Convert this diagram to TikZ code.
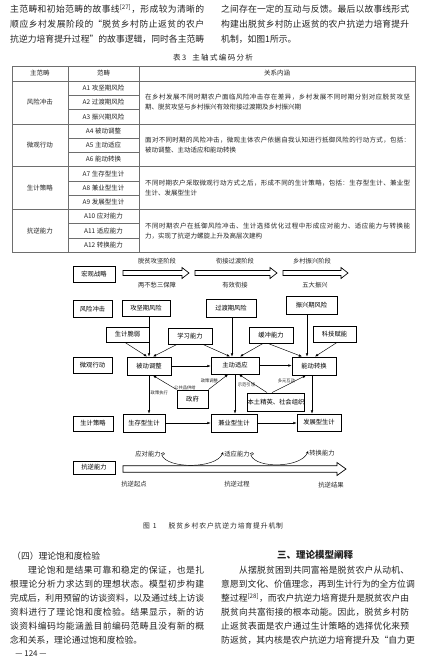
\documentclass[tikz,border=0pt]{standalone}
\usepackage{fontspec}
\setmainfont{Noto Sans CJK SC}
\usetikzlibrary{arrows.meta,positioning,calc}
\definecolor{inkgray}{RGB}{35,35,35}
\definecolor{rulegray}{RGB}{110,110,110}

% stretchable glue between CJK characters, so a line can fill its column
\XeTeXinterchartokenstate=1
\chardef\cjkclass=11
\newcount\cjkcount
\cjkcount="3000
\loop
  \XeTeXcharclass\cjkcount=\cjkclass
\ifnum\cjkcount<"9FFF \advance\cjkcount by 1 \repeat
\cjkcount="FF00
\loop
  \XeTeXcharclass\cjkcount=\cjkclass
\ifnum\cjkcount<"FFEF \advance\cjkcount by 1 \repeat
\XeTeXinterchartoks\cjkclass\cjkclass={\hskip 0pt plus 1fil\relax}

\newcommand\colline[2]{\hbox to #1{#2}}
\newcommand\bodyfont{\fontsize{8.8}{10}\selectfont}
\newcommand\tabfont{\fontsize{6.5}{7.5}\selectfont}
\newcommand\figfont{\fontsize{6.3}{7}\selectfont}
\newcommand\edgefont{\fontsize{4.3}{5}\selectfont}
% hollow block arrow: x start, x tip, y, half shaft, half head, head length
\newcommand\hollowarrow[6]{\draw[bigarrow] (#1,#3-#4) -- (#2-#6,#3-#4) -- (#2-#6,#3-#5) -- (#2,#3)
  -- (#2-#6,#3+#5) -- (#2-#6,#3+#4) -- (#1,#3+#4) -- cycle;}

\begin{document}
\begin{tikzpicture}[x=1pt,y=-1pt,
  bodyline/.style={anchor=west,inner sep=0pt,font=\bodyfont,text=inkgray},
  tabtext/.style={inner sep=0pt,font=\tabfont,text=inkgray},
  tabrule/.style={rulegray,line width=0.5pt},
  figbox/.style={draw,line width=0.9pt,fill=white,inner sep=0pt,minimum width=44pt,
    minimum height=17pt,font=\figfont},
  figtext/.style={inner sep=0pt,font=\figfont,text=inkgray},
  figarrow/.style={-{Latex[length=3.2pt,width=2.6pt]},line width=0.45pt},
  edgelabel/.style={inner sep=0pt,font=\edgefont,text=inkgray},
  curvearrow/.style={-{Stealth[length=3pt,width=2.6pt]},line width=0.45pt},
  bigarrow/.style={line width=0.7pt,fill=white}
]
\fill[white] (0,0) rectangle (427,664);
\useasboundingbox (0,0) rectangle (427,664);

% text above the table
\node[bodyline] (tl1) at (10,9) {\colline{194pt}{主范畴和初始范畴的故事线\textsuperscript{[27]}，形成较为清晰的}};
\node[bodyline] (tl2) at (10,24) {\colline{194pt}{顺应乡村发展阶段的“脱贫乡村防止返贫的农户}};
\node[bodyline] (tl3) at (10,39) {\colline{194pt}{抗逆力培育提升过程”的故事逻辑，同时各主范畴}};
\node[bodyline] (tr1) at (221,9) {\colline{188pt}{之间存在一定的互动与反馈。最后以故事线形式}};
\node[bodyline] (tr2) at (221,24) {\colline{188pt}{构建出脱贫乡村防止返贫的农户抗逆力培育提升}};
\node[bodyline] (tr3) at (221,39) {机制，如图1所示。};

% table 3
\node[tabtext,font=\fontsize{7.5}{8}\selectfont] (tabcap) at (213,57.5) {\colline{80pt}{表 3\hskip 6pt 主轴式编码分析}};
\draw[tabrule,line width=0.6pt] (12,66) rectangle (415,252);
\draw[tabrule] (12,81) -- (415,81);
\foreach \y in {123.75,166.5,209.25} \draw[tabrule] (12,\y) -- (415,\y);
\foreach \y in {95.25,109.5,138,152.25,180.75,195,223.5,237.75} \draw[tabrule] (68,\y) -- (139,\y);
\draw[tabrule] (68,66) -- (68,252);
\draw[tabrule] (139,66) -- (139,252);
\node[tabtext] (hmain) at (40,73.5) {主范畴};
\node[tabtext] (hsub) at (103.5,73.5) {范畴};
\node[tabtext] (hrel) at (277,73.5) {关系内涵};
\foreach \cat/\y [count=\k] in {风险冲击/102.4,微观行动/145.1,生计策略/187.9,抗逆能力/230.6}
  \node[tabtext] (main\k) at (40,\y) {\cat};
\foreach \lab [count=\i] in {A1 攻坚期风险,A2 过渡期风险,A3 振兴期风险,A4 被动调整,A5 主动适应,
    A6 能动转换,A7 生存型生计,A8 兼业型生计,A9 发展型生计,A10 应对能力,A11 适应能力,A12 转换能力}
  \node[tabtext] (sub\i) at (103.5,{73.875+14.25*\i}) {\lab};
\node[tabtext,anchor=west] (rel1a) at (145,97.4) {\colline{265pt}{在乡村发展不同时期农户面临风险冲击存在差异，乡村发展不同时期分别对应脱贫攻坚}};
\node[tabtext,anchor=west] (rel1b) at (145,107.4) {期、脱贫攻坚与乡村振兴有效衔接过渡期及乡村振兴期};
\node[tabtext,anchor=west] (rel2a) at (145,140.1) {\colline{265pt}{面对不同时期的风险冲击，微观主体农户依据自我认知进行抵御风险的行动方式，包括：}};
\node[tabtext,anchor=west] (rel2b) at (145,150.1) {被动调整、主动适应和能动转换};
\node[tabtext,anchor=west] (rel3a) at (145,182.9) {\colline{265pt}{不同时期农户采取微观行动方式之后，形成不同的生计策略，包括：生存型生计、兼业型}};
\node[tabtext,anchor=west] (rel3b) at (145,192.9) {生计、发展型生计};
\node[tabtext,anchor=west] (rel4a) at (145,225.6) {\colline{265pt}{不同时期农户在抵御风险冲击、生计选择优化过程中形成应对能力、适应能力与转换能}};
\node[tabtext,anchor=west] (rel4b) at (145,235.6) {力，实现了抗逆力螺旋上升及高层次建构};

% figure 1: row labels
\node[figbox,minimum width=42pt,minimum height=16pt] (macro) at (94,274) {宏观战略};
\node[figbox,minimum width=39pt] (risk) at (92.5,309) {风险冲击};
\node[figbox,minimum width=39pt,minimum height=16pt] (micro) at (92.5,365) {微观行动};
\node[figbox,minimum width=40pt,minimum height=15pt] (strat) at (93,423.5) {生计策略};
\node[figbox,minimum width=42pt,minimum height=13pt] (resil) at (94,467.5) {抗逆能力};
% stages
\node[figtext] (st1) at (157,261) {脱贫攻坚阶段};
\node[figtext] (st2) at (235,261) {衔接过渡阶段};
\node[figtext] (st3) at (312,261) {乡村振兴阶段};
\node[figtext] (goal1) at (157,285) {两不愁三保障};
\node[figtext] (goal2) at (235,285) {有效衔接};
\node[figtext] (goal3) at (315,285) {五大振兴};
\hollowarrow{123}{189}{273}{2.5}{5.5}{7}
\hollowarrow{195}{277}{273}{2.5}{5.5}{7}
\hollowarrow{283}{348}{273}{2.5}{5.5}{7}
% risks
\node[figbox,minimum width=48pt,minimum height=16pt] (gjrisk) at (146,308) {攻坚期风险};
\node[figbox,minimum width=50pt,minimum height=18pt] (gdrisk) at (231,308) {过渡期风险};
\node[figbox,minimum width=51pt,minimum height=18pt] (zxrisk) at (311.5,305) {振兴期风险};
% capacities
\node[figbox,minimum width=43pt,minimum height=15pt] (fragile) at (127.5,334.5) {生计脆弱};
\node[figbox,minimum height=16pt] (learn) at (190,336) {学习能力};
\node[figbox,minimum height=16pt] (buffer) at (271,335) {缓冲能力};
\node[figbox,minimum width=43pt,minimum height=16pt] (tech) at (334.5,334) {科技赋能};
% actions
\node[figbox,minimum height=18pt] (passive) at (149,366) {被动调整};
\node[figbox,minimum width=48pt] (active) at (235,365.5) {主动适应};
\node[figbox,minimum height=18pt] (agentic) at (314,366) {能动转换};
\node[figbox,minimum width=31pt,minimum height=18pt] (gov) at (192.5,399) {政府};
\node[figbox,minimum width=56pt,minimum height=18pt] (elite) at (276,402) {本土精英、社会组织};
% livelihoods
\node[figbox,minimum width=42pt,minimum height=18pt] (survive) at (144,423) {生存型生计};
\node[figbox,minimum width=46pt,minimum height=18pt] (parttime) at (234,423) {兼业型生计};
\node[figbox,minimum height=17pt] (develop) at (319,422.5) {发展型生计};

% connectors
\draw[figarrow] (passive.north |- gjrisk.south) -- (passive.north);
\draw[figarrow] ([xshift=-3pt]active.north |- gdrisk.south) -- ([xshift=-3pt]active.north);
\draw[figarrow] ([xshift=-7pt]agentic.north |- zxrisk.south) -- ([xshift=-7pt]agentic.north);
\draw[figarrow] ([xshift=-2.5pt]fragile.south) -- ([xshift=-2pt]passive.north);
\draw[figarrow] ([xshift=-13pt]learn.south) -- ([xshift=4pt]passive.north);
\draw[figarrow] ([xshift=13pt]learn.south) -- ([xshift=-5pt]active.north);
\draw[figarrow] ([xshift=-8pt]buffer.south) -- ([xshift=5pt]active.north);
\draw[figarrow] ([xshift=-3pt]buffer.south) -- ([xshift=-12pt]agentic.north);
\draw[figarrow] ([xshift=2.5pt]tech.south) -- ([xshift=1pt]agentic.north);
\draw[figarrow] (passive.east) -- (passive.east -| active.west);
\draw[figarrow] (active.east) -- (active.east -| agentic.west);
\draw[figarrow] (gov.north west) -- node[edgelabel,pos=0.15,right=1pt] {公共品供给} ([xshift=4pt]passive.south);
\draw[figarrow] (gov.north east) -- node[edgelabel,pos=0.55,left=1pt] {政策调整} ([xshift=-7pt]active.south);
\draw[figarrow] ([xshift=-9pt]elite.north) -- node[edgelabel,pos=0.4,left=0.5pt] {示范引领} ([xshift=4pt]active.south);
\draw[figarrow] ([xshift=-4pt]elite.north) -- node[edgelabel,pos=0.7,left=0.5pt] {多元互动} ([xshift=-8pt]agentic.south);
\draw[figarrow] (passive.south) -- node[edgelabel,pos=0.46,right=1.5pt] {政策执行} (passive.south |- survive.north);
\draw[figarrow] (active.south) -- (active.south |- parttime.north);
\draw[figarrow] ([xshift=-2pt]agentic.south) -- ([xshift=-2pt]agentic.south |- develop.north);
\draw[figarrow] (survive.east) -- (survive.east -| parttime.west);
\draw[figarrow] (parttime.east) -- (parttime.east -| develop.west);

% resilience path
\hollowarrow{123}{346}{469}{3.3}{6.5}{9}
\node[figtext] (cope) at (148,454) {应对能力};
\node[figtext] (adapt) at (237,454) {适应能力};
\node[figtext] (convert) at (322,453) {转换能力};
\node[figtext] (start) at (134,484) {抗逆起点};
\node[figtext] (process) at (237,484) {抗逆过程};
\node[figtext] (result) at (331,485) {抗逆结果};
\draw[curvearrow] (cope.east) .. controls ($(cope.east)+(4,-4)$) and ($(cope.east)+(5,2)$) .. ($(cope.east)+(1,1)$)
  .. controls ($(cope.east)+(6,15)$) and ($(adapt.west)+(-8,15)$) .. ($(adapt.west)+(-1,-2)$);
\draw[curvearrow] (adapt.east) .. controls ($(adapt.east)+(4,-4)$) and ($(adapt.east)+(5,2)$) .. ($(adapt.east)+(1,1)$)
  .. controls ($(adapt.east)+(6,15)$) and ($(convert.west)+(-8,15)$) .. ($(convert.west)+(-1,-2)$);
\node[figtext,font=\fontsize{6.8}{7.5}\selectfont] (figcap) at (213,526) {\colline{140pt}{图\hskip 3pt 1\hskip 12pt 脱贫乡村农户抗逆力培育提升机制}};

% text below the figure
\node[bodyline] (bl0) at (12,556) {（四）理论饱和度检验};
\node[bodyline] (bl1) at (28,570) {\colline{176pt}{理论饱和是结果可靠和稳定的保证，也是扎}};
\node[bodyline] (bl2) at (10,584) {\colline{194pt}{根理论分析力求达到的理想状态。模型初步构建}};
\node[bodyline] (bl3) at (10,598) {\colline{194pt}{完成后，利用预留的访谈资料，以及通过线上访谈}};
\node[bodyline] (bl4) at (10,612) {\colline{194pt}{资料进行了理论饱和度检验。结果显示，新的访}};
\node[bodyline] (bl5) at (10,626) {\colline{194pt}{谈资料编码均能涵盖目前编码范畴且没有新的概}};
\node[bodyline] (bl6) at (10,640) {念和关系，理论通过饱和度检验。};
\node[bodyline,anchor=center,font=\fontsize{9.5}{11}\selectfont\bfseries] (br0) at (315,555) {三、理论模型阐释};
\node[bodyline] (br1) at (239,570) {\colline{170pt}{从摆脱贫困到共同富裕是脱贫农户从动机、}};
\node[bodyline] (br2) at (221,584) {\colline{188pt}{意愿到文化、价值理念，再到生计行为的全方位调}};
\node[bodyline] (br3) at (221,598) {\colline{188pt}{整过程\textsuperscript{[28]}，而农户抗逆力培育提升是脱贫农户由}};
\node[bodyline] (br4) at (221,612) {\colline{188pt}{脱贫向共富衔接的根本动能。因此，脱贫乡村防}};
\node[bodyline] (br5) at (221,626) {\colline{188pt}{止返贫表面是农户通过生计策略的选择优化来预}};
\node[bodyline] (br6) at (221,640) {\colline{188pt}{防返贫，其内核是农户抗逆力培育提升及“自力更}};
\node[bodyline,anchor=center,font=\fontsize{8}{9}\selectfont] (pageno) at (31,654) {— 124 —};
\end{tikzpicture}
\end{document}
